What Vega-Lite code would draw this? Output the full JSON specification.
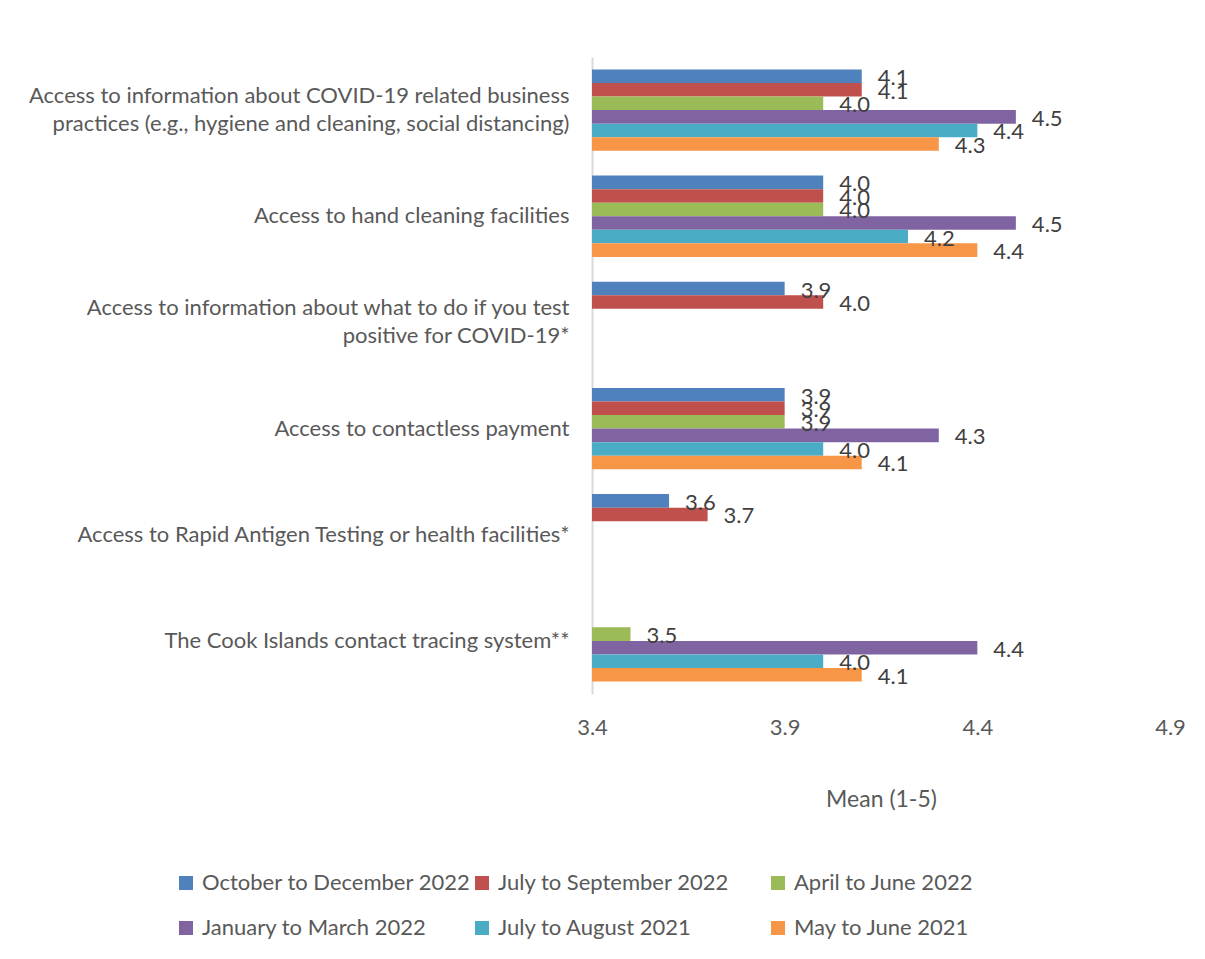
{
  "$schema": "https://vega.github.io/schema/vega-lite/v6.json",
  "width": 578,
  "height": 637,
  "autosize": {"type": "none"},
  "padding": {"left": 592, "top": 57, "right": 35, "bottom": 265},
  "background": "white",
  "config": {
    "view": {"stroke": null},
    "font": "Lato",
    "text": {"font": "Lato"}
  },
  "data": {
    "values": [
      {"category": "Access to information about COVID-19 related business practices (e.g., hygiene and cleaning, social distancing)", "period": "October to December 2022", "value": 4.1},
      {"category": "Access to information about COVID-19 related business practices (e.g., hygiene and cleaning, social distancing)", "period": "July to September 2022", "value": 4.1},
      {"category": "Access to information about COVID-19 related business practices (e.g., hygiene and cleaning, social distancing)", "period": "April to June 2022", "value": 4.0},
      {"category": "Access to information about COVID-19 related business practices (e.g., hygiene and cleaning, social distancing)", "period": "January to March 2022", "value": 4.5},
      {"category": "Access to information about COVID-19 related business practices (e.g., hygiene and cleaning, social distancing)", "period": "July to August 2021", "value": 4.4},
      {"category": "Access to information about COVID-19 related business practices (e.g., hygiene and cleaning, social distancing)", "period": "May to June 2021", "value": 4.3},
      {"category": "Access to hand cleaning facilities", "period": "October to December 2022", "value": 4.0},
      {"category": "Access to hand cleaning facilities", "period": "July to September 2022", "value": 4.0},
      {"category": "Access to hand cleaning facilities", "period": "April to June 2022", "value": 4.0},
      {"category": "Access to hand cleaning facilities", "period": "January to March 2022", "value": 4.5},
      {"category": "Access to hand cleaning facilities", "period": "July to August 2021", "value": 4.22},
      {"category": "Access to hand cleaning facilities", "period": "May to June 2021", "value": 4.4},
      {"category": "Access to information about what to do if you test positive for COVID-19*", "period": "October to December 2022", "value": 3.9},
      {"category": "Access to information about what to do if you test positive for COVID-19*", "period": "July to September 2022", "value": 4.0},
      {"category": "Access to contactless payment", "period": "October to December 2022", "value": 3.9},
      {"category": "Access to contactless payment", "period": "July to September 2022", "value": 3.9},
      {"category": "Access to contactless payment", "period": "April to June 2022", "value": 3.9},
      {"category": "Access to contactless payment", "period": "January to March 2022", "value": 4.3},
      {"category": "Access to contactless payment", "period": "July to August 2021", "value": 4.0},
      {"category": "Access to contactless payment", "period": "May to June 2021", "value": 4.1},
      {"category": "Access to Rapid Antigen Testing or health facilities*", "period": "October to December 2022", "value": 3.6},
      {"category": "Access to Rapid Antigen Testing or health facilities*", "period": "July to September 2022", "value": 3.7},
      {"category": "The Cook Islands contact tracing system**", "period": "April to June 2022", "value": 3.5},
      {"category": "The Cook Islands contact tracing system**", "period": "January to March 2022", "value": 4.4},
      {"category": "The Cook Islands contact tracing system**", "period": "July to August 2021", "value": 4.0},
      {"category": "The Cook Islands contact tracing system**", "period": "May to June 2021", "value": 4.1}
    ]
  },
  "encoding": {
    "y": {
      "field": "category",
      "type": "nominal",
      "sort": null,
      "scale": {
        "domain": [
          "Access to information about COVID-19 related business practices (e.g., hygiene and cleaning, social distancing)",
          "Access to hand cleaning facilities",
          "Access to information about what to do if you test positive for COVID-19*",
          "Access to contactless payment",
          "Access to Rapid Antigen Testing or health facilities*",
          "The Cook Islands contact tracing system**"
        ],
        "paddingInner": 0.234,
        "paddingOuter": 0.117
      },
      "axis": {
        "title": null,
        "ticks": false,
        "grid": false,
        "domainColor": "#d9d9d9",
        "domainWidth": 2,
        "labelPadding": 23,
        "labelFontSize": 22,
        "labelColor": "#595959",
        "labelLimit": 700,
        "labelLineHeight": 28,
        "labelOffset": {"condition": {"test": "indexof(datum.value, 'business practices') >= 0 || indexof(datum.value, 'test positive') >= 0", "value": -14}, "value": 0},
        "labelExpr": "split(replace(replace(datum.value, 'business practices', 'business|practices'), 'test positive', 'test|positive'), '|')"
      }
    },
    "yOffset": {
      "field": "period",
      "type": "nominal",
      "scale": {
        "domain": ["October to December 2022", "July to September 2022", "April to June 2022", "January to March 2022", "July to August 2021", "May to June 2021"],
        "paddingInner": 0,
        "paddingOuter": 0
      }
    },
    "x": {
      "field": "value",
      "type": "quantitative",
      "scale": {"domain": [3.4, 4.9], "nice": false, "zero": false},
      "axis": {
        "title": "Mean (1-5)",
        "values": [3.4, 3.9, 4.4, 4.9],
        "format": ".1f",
        "domain": false,
        "ticks": false,
        "grid": false,
        "labelFlush": false,
        "labelPadding": 23,
        "labelFontSize": 22,
        "labelColor": "#595959",
        "labelFontWeight": "normal",
        "titleFontSize": 23,
        "titleFontWeight": "normal",
        "titleColor": "#595959",
        "titlePadding": 50
      }
    }
  },
  "layer": [
    {
      "mark": {"type": "bar", "clip": true},
      "encoding": {
        "color": {
          "field": "period",
          "type": "nominal",
          "scale": {
            "domain": ["October to December 2022", "July to September 2022", "April to June 2022", "January to March 2022", "July to August 2021", "May to June 2021"],
            "range": ["#4F81BD", "#C0504D", "#9BBB59", "#8064A2", "#4BACC6", "#F79646"]
          },
          "legend": {
            "title": null,
            "orient": "none",
            "direction": "horizontal",
            "legendX": -417,
            "legendY": 815,
            "columns": 3,
            "gridAlign": "all",
            "symbolType": "square",
            "symbolSize": 196,
            "symbolStrokeWidth": 0,
            "labelFontSize": 22,
            "labelColor": "#595959",
            "labelOffset": 5,
            "labelLimit": 400,
            "columnPadding": -6,
            "rowPadding": 23
          }
        }
      }
    },
    {
      "mark": {"type": "text", "align": "left", "baseline": "middle", "dx": 16, "dy": 2, "fontSize": 22, "color": "#404040"},
      "encoding": {
        "text": {"field": "value", "type": "quantitative", "format": ".1f"}
      }
    }
  ]
}
